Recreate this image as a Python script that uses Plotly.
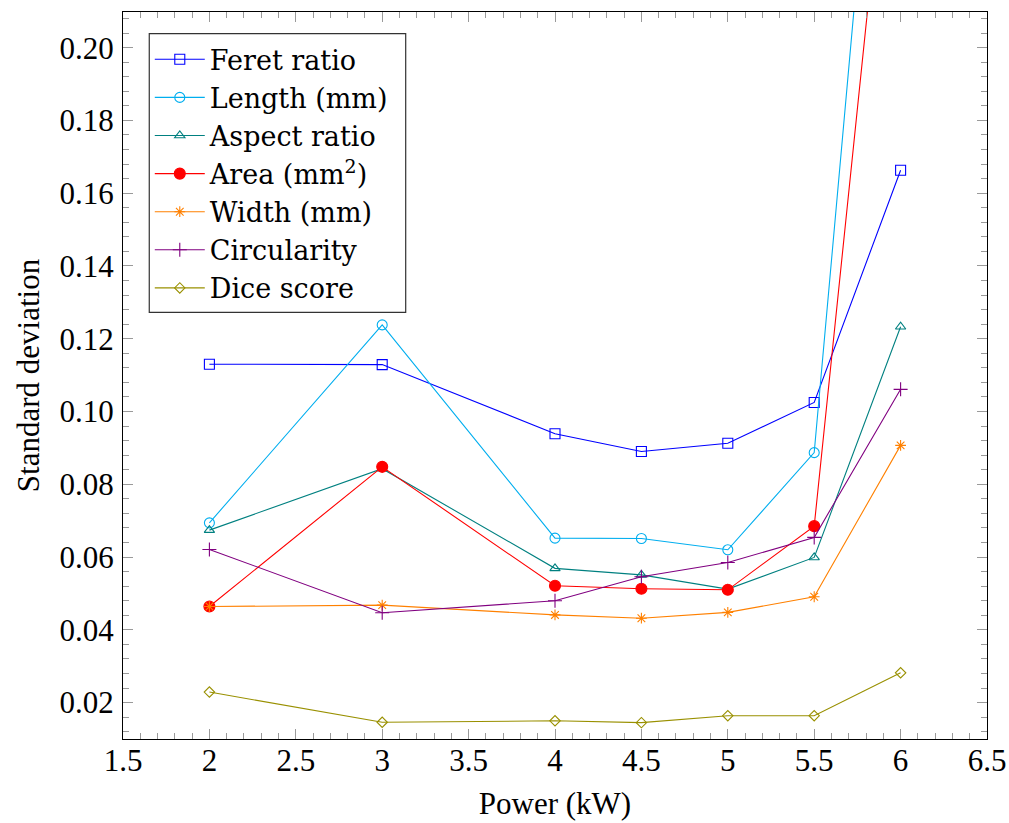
import plotly.graph_objects as go

# Laser power settings (kW)
power = [2, 3, 4, 4.5, 5, 5.5, 6]

# Standard deviation of each measured quantity at each power
feret_ratio = [0.1130, 0.1129, 0.0939, 0.0890, 0.0913, 0.1025, 0.1663]
length_mm = [0.0694, 0.1238, 0.0652, 0.0651, 0.0620, 0.0887, 0.353]
aspect_ratio = [0.0674, 0.0843, 0.0569, 0.0551, 0.0512, 0.0599, 0.1233]
area_mm2 = [0.0464, 0.0848, 0.0521, 0.0513, 0.0510, 0.0685, 0.298]
width_mm = [0.0464, 0.0468, 0.0441, 0.0432, 0.0448, 0.0491, 0.0907]
circularity = [0.0621, 0.0447, 0.0480, 0.0546, 0.0585, 0.0654, 0.1061]
dice_score = [0.0229, 0.0146, 0.0150, 0.0145, 0.0164, 0.0164, 0.0282]

series_names = ["Feret ratio", "Length (mm)", "Aspect ratio", "Area (mm<sup>2</sup>)",
                "Width (mm)", "Circularity", "Dice score"]

x_ticks = [1.5, 2, 2.5, 3, 3.5, 4, 4.5, 5, 5.5, 6, 6.5]
y_ticks = [0.02, 0.04, 0.06, 0.08, 0.10, 0.12, 0.14, 0.16, 0.18, 0.20]

FONT = "Liberation Serif"
LEGEND_FONT = "DejaVu Serif"

styles = [
    dict(color="#0000ff", symbol="square-open", size=10),
    dict(color="#00aeef", symbol="circle-open", size=10),
    dict(color="#008080", symbol="triangle-up-open", size=9),
    dict(color="#ff0000", symbol="circle", size=11),
    dict(color="#ff8000", symbol="asterisk-open", size=9),
    dict(color="#800080", symbol="cross-thin-open", size=10),
    dict(color="#999000", symbol="diamond-open", size=8),
]

all_series = [feret_ratio, length_mm, aspect_ratio, area_mm2, width_mm, circularity, dice_score]

fig = go.Figure()
for name, ys, st in zip(series_names, all_series, styles):
    fig.add_trace(go.Scatter(
        x=power, y=ys, name=name, mode="lines+markers",
        line=dict(color=st["color"], width=1.1),
        marker=dict(symbol=st["symbol"], size=st["size"], color=st["color"],
                    line=dict(color=st["color"], width=1.1)),
        cliponaxis=True,
    ))

axis_common = dict(
    showline=True, linecolor="black", linewidth=1.2, mirror="ticks",
    ticks="inside", ticklen=10, tickwidth=1, tickcolor="#9a9a9a",
    showgrid=False, zeroline=False,
    tickfont=dict(family=FONT, size=31, color="black"),
)

fig.update_xaxes(
    range=[1.5, 6.5], tickvals=x_ticks, ticktext=[f"{v:g}" for v in x_ticks],
    minor=dict(ticks="inside", ticklen=6, dtick=0.1, tick0=0, tickcolor="#9a9a9a", tickwidth=1),
    ticklabelstandoff=-6,
    title=dict(text="Power (kW)", font=dict(family=FONT, size=31, color="black"), standoff=15),
    **axis_common,
)
fig.update_yaxes(
    range=[0.0100, 0.2098], tickvals=y_ticks, ticktext=[f"{v:.2f}" for v in y_ticks],
    minor=dict(ticks="inside", ticklen=6, dtick=0.004, tick0=0, tickcolor="#9a9a9a", tickwidth=1),
    ticklabelstandoff=2,
    title=dict(text="Standard deviation", font=dict(family=FONT, size=31, color="black"), standoff=10),
    **axis_common,
)

# Legend frame drawn as a white box over the plot area; the legend entries sit inside it
fig.add_shape(
    type="rect", xref="paper", yref="paper",
    x0=0.0304, x1=0.3272, y0=0.5867, y1=0.9703,
    line=dict(color="#333333", width=1.2), fillcolor="white", layer="above",
)

fig.update_layout(
    width=1009, height=823,
    margin=dict(l=123, r=22, t=12, b=84, autoexpand=False),
    plot_bgcolor="white", paper_bgcolor="white",
    font=dict(family=FONT, size=31, color="black"),
    legend=dict(
        x=0.031, y=0.968, xanchor="left", yanchor="top",
        bgcolor="rgba(0,0,0,0)", borderwidth=0,
        font=dict(family=LEGEND_FONT, size=27, color="black"),
        tracegroupgap=0, itemwidth=50,
    ),
    showlegend=True,
)

fig.write_html("out.html")
